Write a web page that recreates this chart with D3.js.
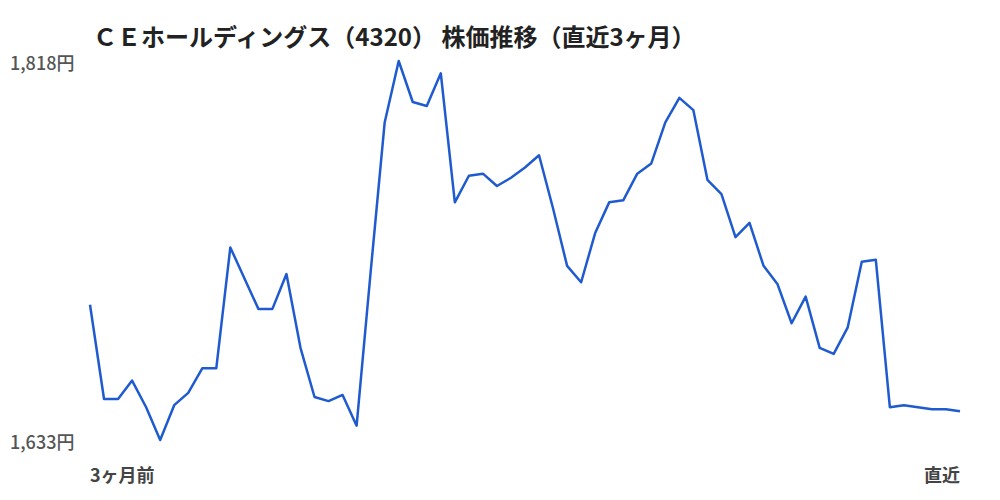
<!DOCTYPE html>
<html>
<head>
<meta charset="utf-8">
<script src="https://cdn.jsdelivr.net/npm/d3@7"></script>
<style>
  html, body { margin: 0; padding: 0; background: #fff; }
  #chart { width: 1000px; height: 500px; }
  text { font-family: "Noto Sans CJK JP", "Noto Sans", sans-serif; }
</style>
</head>
<body>
<div id="chart"></div>
<script>
const title = "ＣＥホールディングス（4320） 株価推移（直近3ヶ月）";
const yTicks = [1633, 1818];
const xLabels = ["3ヶ月前", "直近"];
// closing prices, oldest -> latest
const prices = [
  1699, 1653, 1653, 1662, 1649, 1633, 1650, 1656, 1668, 1668,
  1727, 1712, 1697, 1697, 1714, 1678, 1654, 1652, 1655, 1640,
  1715, 1788, 1818, 1798, 1796, 1812, 1749, 1762, 1763, 1757,
  1761, 1766, 1772, 1746, 1718, 1710, 1734, 1749, 1750, 1763,
  1768, 1788, 1800, 1794, 1760, 1753, 1732, 1739, 1718, 1709,
  1690, 1703, 1678, 1675, 1688, 1720, 1721, 1649, 1650, 1649,
  1648, 1648, 1647
];

const container = d3.select("#chart");
const width = 1000, height = 500;
const svg = container.append("svg").attr("width", width).attr("height", height);

const margin = { left: 90, right: 40, top: 61, bottom: 60 };

const xScale = d3.scaleLinear()
  .domain([0, prices.length - 1])
  .range([margin.left, width - margin.right]);

const yScale = d3.scaleLinear()
  .domain(d3.extent(yTicks))
  .range([height - margin.bottom, margin.top]);

// title
svg.append("text")
  .attr("x", 93)
  .attr("y", 35)
  .attr("dominant-baseline", "central")
  .attr("font-size", 24)
  .attr("font-weight", "bold")
  .attr("fill", "#222")
  .text(title);

// y labels (min / max only)
svg.append("g")
  .selectAll("text")
  .data(yTicks)
  .enter()
  .append("text")
    .attr("x", 10)
    .attr("y", d => yScale(d) + 1)
    .attr("dominant-baseline", "central")
    .attr("font-size", 18)
    .attr("font-weight", 500)
    .attr("fill", "#555")
    .text(d => d3.format(",")(d) + "円");

// x labels at both ends
svg.append("g")
  .selectAll("text")
  .data(xLabels)
  .enter()
  .append("text")
    .attr("x", (d, i) => i === 0 ? xScale(0) : xScale(prices.length - 1))
    .attr("y", 474)
    .attr("text-anchor", (d, i) => i === 0 ? "start" : "end")
    .attr("dominant-baseline", "central")
    .attr("font-size", 18)
    .attr("font-weight", "bold")
    .attr("fill", "#444")
    .text(d => d);

// price line
const line = d3.line()
  .x((d, i) => xScale(i))
  .y(d => yScale(d));

svg.append("path")
  .datum(prices)
  .attr("d", line)
  .attr("fill", "none")
  .attr("stroke", "#1f5bcf")
  .attr("stroke-width", 2.5)
  .attr("stroke-linejoin", "round");
</script>
</body>
</html>
